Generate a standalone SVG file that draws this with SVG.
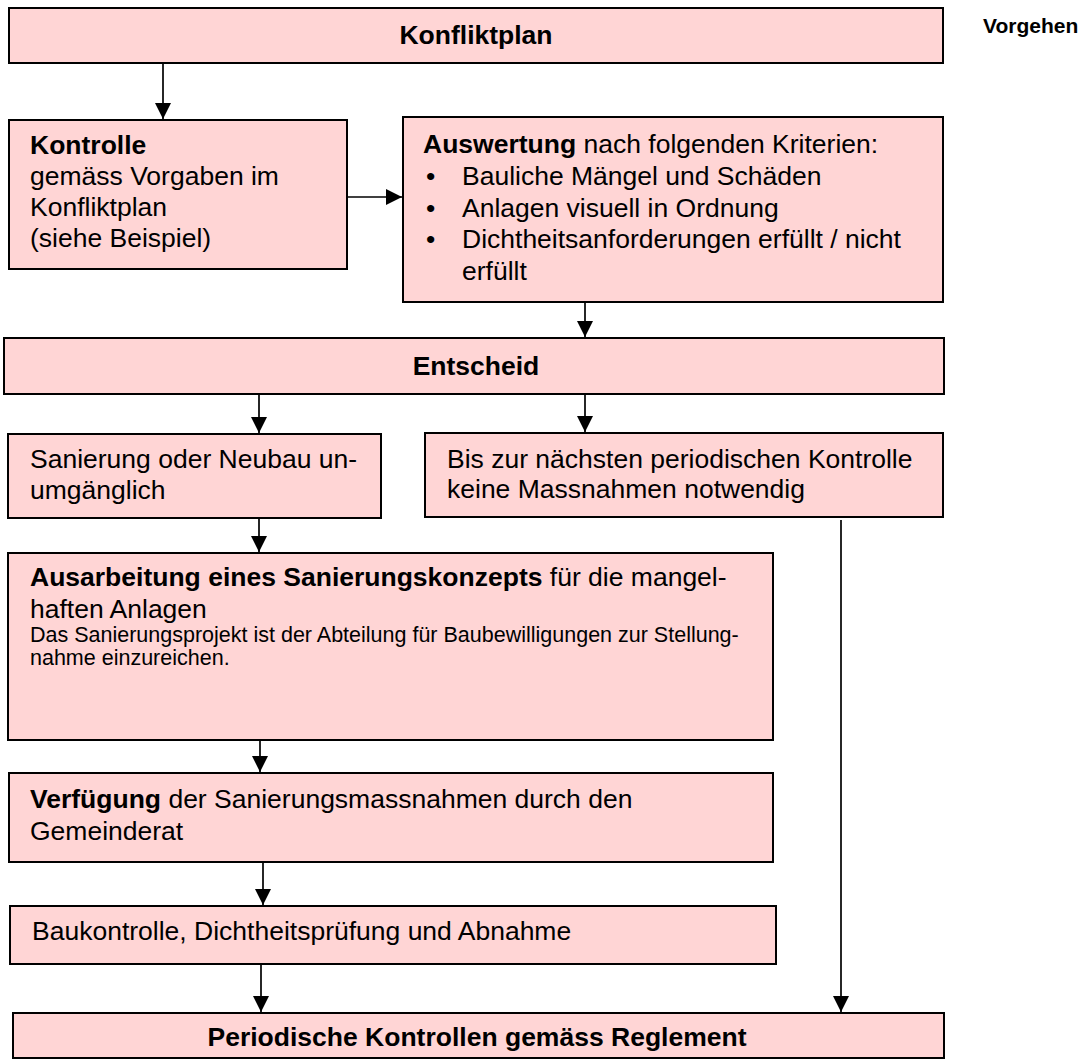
<svg xmlns="http://www.w3.org/2000/svg" width="1089" height="1064" viewBox="0 0 1089 1064">
<style>
.box{fill:#FFD5D5;stroke:#000;stroke-width:2}
.t{font-family:"Liberation Sans",Arial,sans-serif;font-size:26.5px;fill:#000}
.b{font-weight:bold}
.s{font-size:21.5px}
.c{text-anchor:middle}
.ln{stroke:#000;stroke-width:1.7;fill:none;marker-end:url(#ah)}
</style>
<defs>
<marker id="ah" markerUnits="userSpaceOnUse" markerWidth="16" markerHeight="16" viewBox="0 0 15 15" refX="15" refY="7.5" orient="auto">
<path d="M0,0 L15,7.5 L0,15 Z" fill="#000"/>
</marker>
</defs>
<rect width="1089" height="1064" fill="#fff"/>
<text class="t b" x="983" y="33" style="font-size:21px">Vorgehen</text>
<g id="connectors">
<line class="ln" x1="163" y1="63" x2="163" y2="119"/>
<line class="ln" x1="347" y1="197" x2="402" y2="197"/>
<line class="ln" x1="585" y1="302" x2="585" y2="337"/>
<line class="ln" x1="259" y1="394" x2="259" y2="433"/>
<line class="ln" x1="585" y1="394" x2="585" y2="432"/>
<line class="ln" x1="259" y1="518" x2="259" y2="552"/>
<line class="ln" x1="260" y1="740" x2="260" y2="772"/>
<line class="ln" x1="263" y1="862" x2="263" y2="905"/>
<line class="ln" x1="261" y1="964" x2="261" y2="1012"/>
<line class="ln" x1="841" y1="520" x2="841" y2="1012"/>
</g>
<g id="konfliktplan">
<rect class="box" x="9" y="8" width="934" height="55"/>
<text class="t b c" x="476" y="44">Konfliktplan</text>
</g>
<g id="kontrolle">
<rect class="box" x="9" y="120" width="338" height="149"/>
<text class="t" x="30" y="154"><tspan class="b">Kontrolle</tspan><tspan x="30" y="185">gemäss Vorgaben im</tspan><tspan x="30" y="216">Konfliktplan</tspan><tspan x="30" y="247">(siehe Beispiel)</tspan></text>
</g>
<g id="auswertung">
<rect class="box" x="403" y="117" width="540" height="185"/>
<text class="t" x="423" y="153"><tspan class="b">Auswertung</tspan> nach folgenden Kriterien:</text>
<text class="t" x="426" y="185">•</text>
<text class="t" x="462" y="185">Bauliche Mängel und Schäden</text>
<text class="t" x="426" y="217">•</text>
<text class="t" x="462" y="217">Anlagen visuell in Ordnung</text>
<text class="t" x="426" y="248">•</text>
<text class="t" x="462" y="248">Dichtheitsanforderungen erfüllt / nicht</text>
<text class="t" x="462" y="280">erfüllt</text>
</g>
<g id="entscheid">
<rect class="box" x="4" y="338" width="940" height="56"/>
<text class="t b c" x="476" y="375">Entscheid</text>
</g>
<g id="sanierung">
<rect class="box" x="8" y="434" width="373" height="84"/>
<text class="t" x="30" y="468">Sanierung oder Neubau un-<tspan x="30" y="499">umgänglich</tspan></text>
</g>
<g id="bis">
<rect class="box" x="425" y="433" width="518" height="84"/>
<text class="t" x="447" y="468">Bis zur nächsten periodischen Kontrolle<tspan x="447" y="498">keine Massnahmen notwendig</tspan></text>
</g>
<g id="ausarbeitung">
<rect class="box" x="8" y="553" width="765" height="187"/>
<text class="t" x="30" y="586"><tspan class="b">Ausarbeitung eines Sanierungskonzepts</tspan> für die mangel-</text>
<text class="t" x="30" y="618">haften Anlagen</text>
<text class="t s" x="30" y="642">Das Sanierungsprojekt ist der Abteilung für Baubewilligungen zur Stellung-</text>
<text class="t s" x="30" y="665">nahme einzureichen.</text>
</g>
<g id="verfuegung">
<rect class="box" x="9" y="773" width="764" height="89"/>
<text class="t" x="30" y="808"><tspan class="b">Verfügung</tspan> der Sanierungsmassnahmen durch den</text>
<text class="t" x="30" y="840">Gemeinderat</text>
</g>
<g id="baukontrolle">
<rect class="box" x="10" y="906" width="766" height="58"/>
<text class="t" x="32" y="940">Baukontrolle, Dichtheitsprüfung und Abnahme</text>
</g>
<g id="periodische">
<rect class="box" x="13" y="1013" width="931" height="45"/>
<text class="t b c" x="477" y="1046">Periodische Kontrollen gemäss Reglement</text>
</g>
</svg>
